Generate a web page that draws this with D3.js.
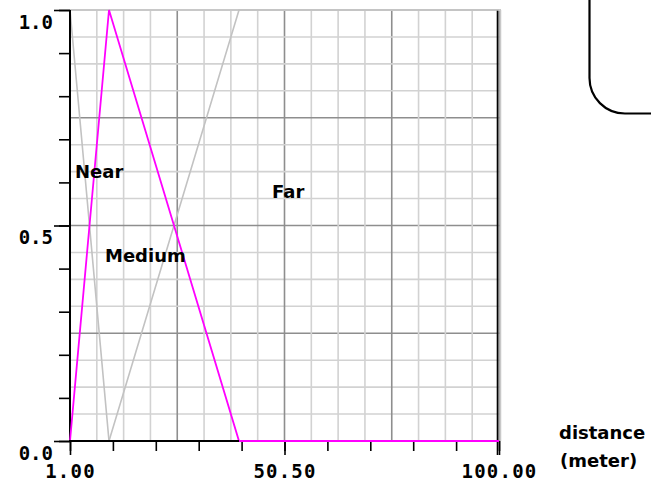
<!DOCTYPE html>
<html>
<head>
<meta charset="utf-8">
<script src="https://cdn.jsdelivr.net/npm/d3@7"></script>
<style>
  html, body { margin: 0; padding: 0; background: #fff; }
  svg { display: block; }
  .lbl { font-family: "DejaVu Sans", sans-serif; font-weight: bold; font-size: 18px; fill: #000; }
  .tk text { font-family: "DejaVu Sans Mono", monospace; font-weight: bold; font-size: 19px; fill: #000; }
</style>
</head>
<body>
<script>
// Fuzzy membership sets over distance (meter)
const nearX = [1, 10, 100];
const nearY = [1, 0, 0];
const mediumX = [1, 10, 40, 100];
const mediumY = [0, 1, 0, 0];
const farX = [1, 10, 40, 100];
const farY = [0, 0, 1, 1];

const setLabels = ["Near", "Medium", "Far"];
const setLabelAt = [[75, 178], [105, 262], [272, 198]];

const xDomain = [1, 100];
const yDomain = [0, 1];
const xMajor = [1, 50.5, 100];
const yMajor = [0, 0.5, 1];
const xTickLabels = ["1.00", "50.50", "100.00"];
const yTickLabels = ["0.0", "0.5", "1.0"];
const axisTitle = ["distance", "(meter)"];

const W = 651, H = 486;
const pL = 70, pR = 499, pT = 10, pB = 441;

const svg = d3.select("body").append("svg").attr("width", W).attr("height", H);

const x = d3.scaleLinear().domain(xDomain).range([pL, pR]);
const y = d3.scaleLinear().domain(yDomain).range([pB, pT]);

// grid: 16 cells each way, every 4th line darker
const gx = d3.scaleLinear().domain([0, 16]).range([pL, pR]);
const gy = d3.scaleLinear().domain([0, 16]).range([pB, pT]);
const grid = svg.append("g");
d3.range(0, 17).forEach(i => {
  const dark = i % 4 === 0;
  grid.append("line")
    .attr("x1", gx(i)).attr("x2", gx(i)).attr("y1", pT).attr("y2", pB)
    .attr("stroke", dark ? "#8e8e8e" : "#d2d2d2").attr("stroke-width", 1.6);
  grid.append("line")
    .attr("y1", gy(i)).attr("y2", gy(i)).attr("x1", pL).attr("x2", pR + 1)
    .attr("stroke", dark ? "#8e8e8e" : "#d2d2d2").attr("stroke-width", 1.6);
});
// top edge in light grey, right edge dark
grid.append("line").attr("x1", pL).attr("x2", pR + 2).attr("y1", pT).attr("y2", pT)
  .attr("stroke", "#c8c8c8").attr("stroke-width", 2);
grid.append("line").attr("x1", pR + 1.5).attr("x2", pR + 1.5).attr("y1", pT).attr("y2", pB)
  .attr("stroke", "#c8c8c8").attr("stroke-width", 1.5);
grid.append("line").attr("x1", pR - 1.5).attr("x2", pR - 1.5).attr("y1", pT).attr("y2", pB + 14)
  .attr("stroke", "#000").attr("stroke-width", 1.6);

const line = d3.line().x(d => x(d[0])).y(d => y(d[1]));
const pts = (xs, ys) => xs.map((v, i) => [v, ys[i]]);

svg.append("path").datum(pts(nearX, nearY)).attr("d", line)
  .attr("fill", "none").attr("stroke", "#c2c2c2").attr("stroke-width", 1.6);
svg.append("path").datum(pts(farX, farY)).attr("d", line)
  .attr("fill", "none").attr("stroke", "#c2c2c2").attr("stroke-width", 1.6);

// axes: minor and major ticks
const minorY = d3.range(0, 11).map(i => i / 10);
const minorX = d3.range(0, 11).map(i => 1 + i * 9.9);

svg.append("g").attr("transform", `translate(${pL},0)`)
  .call(d3.axisLeft(y).tickValues(minorY).tickSize(11).tickFormat(""))
  .call(g => g.select(".domain").remove())
  .selectAll("line").attr("stroke", "#000").attr("stroke-width", 1.6);
svg.append("g").attr("class", "tk").attr("transform", `translate(${pL},0)`)
  .call(d3.axisLeft(y).tickValues(yMajor).tickSize(16).tickPadding(0)
    .tickFormat((d, i) => yTickLabels[i]))
  .call(g => g.select(".domain").remove())
  .call(g => g.selectAll("line").attr("stroke", "#000").attr("stroke-width", 1.6))
  .call(g => g.selectAll("text").attr("x", -17).attr("dy", 0).attr("y", 18)
    .attr("text-anchor", "end"));

svg.append("g").attr("transform", `translate(0,${pB})`)
  .call(d3.axisBottom(x).tickValues(minorX).tickSize(10).tickFormat(""))
  .call(g => g.select(".domain").remove())
  .selectAll("line").attr("stroke", "#000").attr("stroke-width", 1.6);
svg.append("g").attr("class", "tk").attr("transform", `translate(0,${pB})`)
  .call(d3.axisBottom(x).tickValues(xMajor).tickSize(14)
    .tickFormat((d, i) => xTickLabels[i]))
  .call(g => g.select(".domain").remove())
  .call(g => g.selectAll("line").attr("stroke", "#000").attr("stroke-width", 1.6))
  .call(g => g.selectAll("text").attr("y", 37).attr("dy", 0).attr("letter-spacing", 1.2));

// axis lines
svg.append("line").attr("x1", pL).attr("x2", pL).attr("y1", pT).attr("y2", pB + 1)
  .attr("stroke", "#000").attr("stroke-width", 2);

svg.append("path").datum(pts(mediumX, mediumY)).attr("d", line)
  .attr("fill", "none").attr("stroke", "#ff00ff").attr("stroke-width", 1.8);

svg.append("line").attr("x1", pL - 1).attr("x2", x(mediumX[2])).attr("y1", pB).attr("y2", pB)
  .attr("stroke", "#000").attr("stroke-width", 2);

// set names
setLabels.forEach((t, i) => {
  svg.append("text").attr("class", "lbl")
    .attr("x", setLabelAt[i][0]).attr("y", setLabelAt[i][1]).text(t);
});

svg.append("text").attr("class", "lbl").attr("x", 559).attr("y", 439).text(axisTitle[0]);
svg.append("text").attr("class", "lbl").attr("x", 560).attr("y", 467).text(axisTitle[1]);

// rounded frame corner at the top right
svg.append("path")
  .attr("d", "M589.5,0 V78 A35.5,35.5 0 0 0 625,113.5 H651")
  .attr("fill", "none").attr("stroke", "#000").attr("stroke-width", 2.2);
</script>
</body>
</html>
